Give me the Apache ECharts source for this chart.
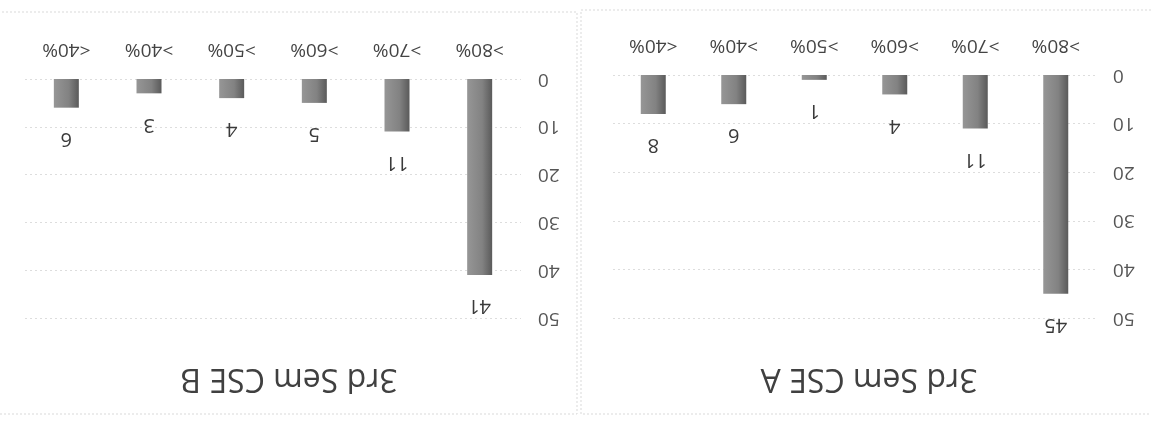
<!DOCTYPE html>
<html>
<head>
<meta charset="utf-8">
<script src="https://cdn.jsdelivr.net/npm/echarts@6/dist/echarts.min.js"></script>
<style>
  html, body { margin: 0; padding: 0; background: #ffffff; }
  #chart { width: 1151px; height: 421px; }
</style>
</head>
<body>
<div id="chart"></div>
<script>
// Marks bands and student counts for the two sections
const categories = ['>80%', '>70%', '>60%', '>50%', '>40%', '<40%'];
const cseA = [45, 11, 4, 1, 6, 8];
const cseB = [41, 11, 5, 4, 3, 6];
const titles = ['3rd Sem CSE A', '3rd Sem CSE B'];
const yMin = 0;
const yMax = 50;
const yStep = 10;

const FONT = 'Open Sans';

// Both panels are drawn turned half a turn: axes inverted, text rotated 180°.
const panels = [
  { grid: { left: 613, top: 75, width: 483, height: 243 }, data: cseA, title: titles[0], tx: 869, box: [581, 10, 580, 404] },
  { grid: { left: 25, top: 79, width: 496, height: 239 }, data: cseB, title: titles[1], tx: 289, box: [-10, 12, 587, 402] }
];

const barColor = new echarts.graphic.LinearGradient(0, 0, 1, 0, [
  { offset: 0, color: '#969696' },
  { offset: 0.6, color: '#828282' },
  { offset: 1, color: '#5a5a5a' }
]);

const option = {
  animation: false,
  backgroundColor: '#ffffff',
  grid: panels.map(p => Object.assign({ containLabel: false }, p.grid)),
  xAxis: panels.map((p, i) => ({
    type: 'category',
    gridIndex: i,
    data: categories,
    inverse: true,
    position: 'top',
    axisLine: { show: false },
    axisTick: { show: false },
    axisLabel: { rotate: 180, margin: 20, color: '#444444', fontSize: 19, fontFamily: FONT }
  })),
  yAxis: panels.map((p, i) => ({
    type: 'value',
    gridIndex: i,
    min: yMin,
    max: yMax,
    interval: yStep,
    inverse: true,
    position: 'right',
    axisLine: { show: false },
    axisTick: { show: false },
    axisLabel: { rotate: 180, margin: 17, color: '#555555', fontSize: 19, fontFamily: FONT },
    splitLine: { show: true, lineStyle: { color: '#dddddd', type: [2, 3], width: 1 } }
  })),
  series: panels.map((p, i) => ({
    type: 'bar',
    xAxisIndex: i,
    yAxisIndex: i,
    data: p.data,
    barWidth: 25,
    itemStyle: { color: barColor },
    label: {
      show: true,
      position: 'bottom',
      distance: 31,
      rotate: 180,
      align: 'center',
      verticalAlign: 'middle',
      color: '#3a3a3a',
      fontSize: 20,
      fontFamily: FONT
    }
  })),
  graphic: panels.flatMap(p => [
    {
      type: 'rect',
      silent: true,
      z: -1,
      shape: { x: p.box[0], y: p.box[1], width: p.box[2], height: p.box[3] },
      style: { fill: 'none', stroke: '#d9d9d9', lineWidth: 1, lineDash: [2, 2] }
    },
    {
      type: 'text',
      x: p.tx,
      y: 378,
      rotation: Math.PI,
      style: {
        text: p.title,
        fill: '#404040',
        fontSize: 32,
        fontFamily: FONT,
        align: 'center',
        verticalAlign: 'middle'
      }
    }
  ])
};

const chart = echarts.init(document.getElementById('chart'), null, { renderer: 'canvas' });
chart.setOption(option);
</script>
</body>
</html>
